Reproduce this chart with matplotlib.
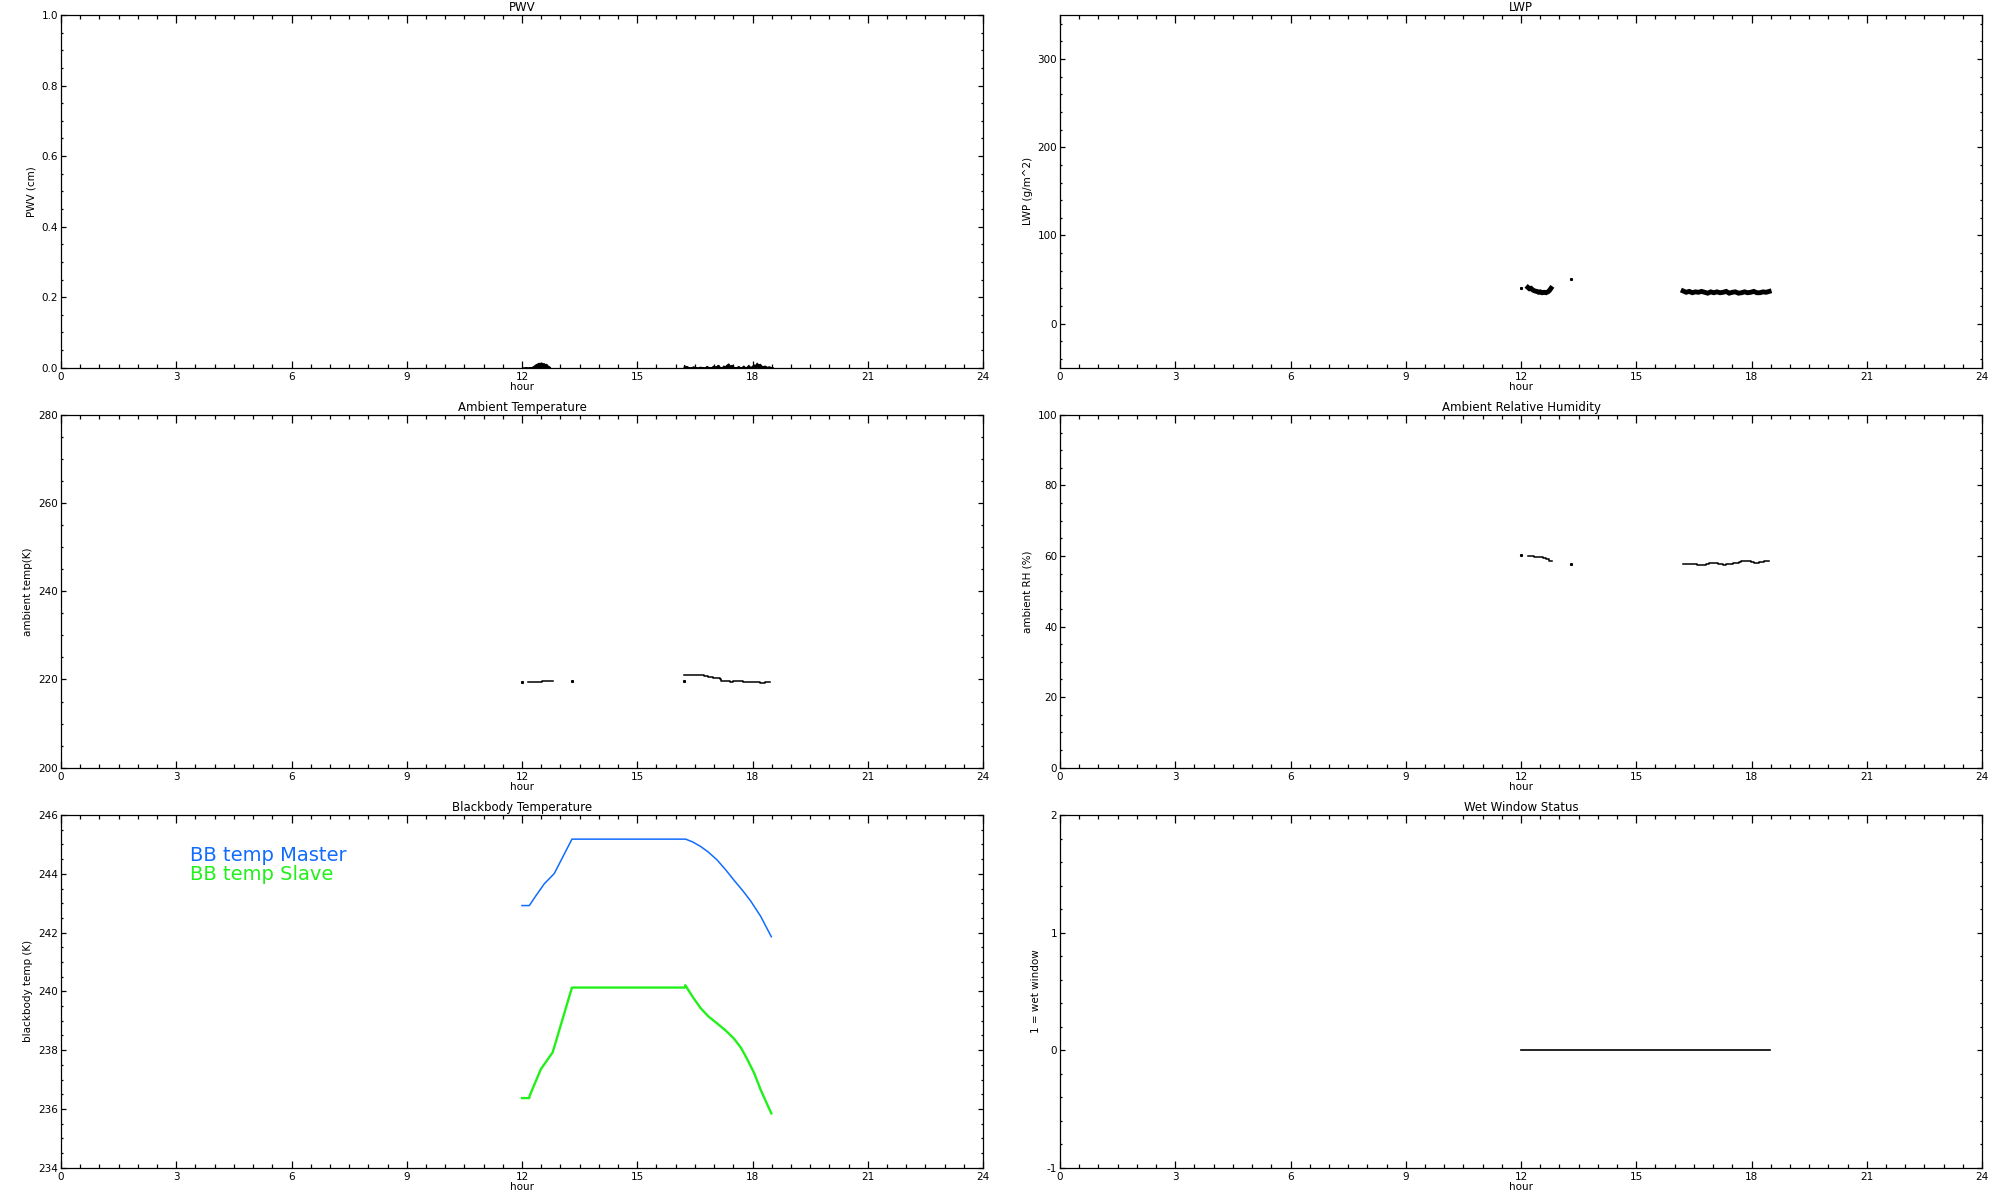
import matplotlib
matplotlib.use('Agg')
import matplotlib.pyplot as plt
from matplotlib.ticker import MultipleLocator, FormatStrFormatter

# PWV (cm)
pwv_hour_a = [12.00, 12.05, 12.10, 12.15, 12.20, 12.25, 12.30, 12.33, 12.36, 12.40,
              12.43, 12.46, 12.50, 12.53, 12.56, 12.60, 12.63, 12.66, 12.70, 12.73]
pwv_a = [0.000, 0.000, 0.001, 0.000, 0.001, 0.002, 0.005, 0.008, 0.010, 0.012,
         0.014, 0.013, 0.015, 0.012, 0.013, 0.010, 0.011, 0.007, 0.004, 0.002]
pwv_hour_b = [16.20, 16.22, 16.25, 16.28, 16.33, 16.38, 16.46, 16.52, 16.58, 16.63,
              16.70, 16.76, 16.80, 16.86, 16.92, 16.98, 17.04, 17.08, 17.11, 17.15,
              17.20, 17.24, 17.28, 17.33, 17.37, 17.41, 17.46, 17.50, 17.56, 17.63,
              17.68, 17.72, 17.76, 17.82, 17.86, 17.89, 17.94, 17.99, 18.02, 18.06,
              18.11, 18.15, 18.19, 18.25, 18.32, 18.38, 18.42, 18.45, 18.50, 18.54]
pwv_b = [0.000, 0.008, 0.003, 0.005, 0.002, 0.000, 0.004, 0.001, 0.000, 0.003,
         0.001, 0.000, 0.005, 0.002, 0.001, 0.006, 0.003, 0.007, 0.008, 0.002,
         0.001, 0.006, 0.004, 0.009, 0.012, 0.006, 0.008, 0.003, 0.000, 0.005,
         0.001, 0.002, 0.006, 0.000, 0.004, 0.008, 0.002, 0.005, 0.010, 0.007,
         0.014, 0.009, 0.011, 0.004, 0.006, 0.002, 0.004, 0.003, 0.001, 0.000]

# LWP (g/m^2)
lwp_hour_dots = [12.00, 13.30]
lwp_dots = [40.8, 51.0]
lwp_hour_a = [12.18, 12.22, 12.26, 12.31, 12.36, 12.41, 12.46, 12.50, 12.55, 12.60,
              12.65, 12.70, 12.74, 12.78]
lwp_a = [41.0, 39.5, 40.0, 38.0, 37.0, 36.5, 35.5, 36.0, 35.0, 35.5,
         35.0, 36.0, 37.5, 40.0]
lwp_hour_b = [16.22, 16.30, 16.38, 16.46, 16.54, 16.62, 16.70, 16.78, 16.86, 16.94,
              17.02, 17.10, 17.18, 17.26, 17.34, 17.42, 17.50, 17.58, 17.66, 17.74,
              17.82, 17.90, 17.98, 18.06, 18.14, 18.22, 18.30, 18.38, 18.46]
lwp_b = [37.0, 35.5, 36.5, 35.0, 36.0, 35.5, 36.5, 35.5, 34.5, 36.0,
         35.0, 36.0, 35.0, 35.5, 36.5, 34.5, 35.5, 36.0, 34.5, 35.0,
         36.0, 35.0, 35.5, 36.5, 35.0, 35.0, 36.0, 35.5, 36.5]

# ambient temperature (K)
at_hour_dots = [11.99, 13.29, 16.22]
at_dots = [219.4, 219.7, 219.7]
at_hour_a = [12.16, 12.51, 12.60, 12.73, 12.80]
at_a = [219.4, 219.6, 219.7, 219.6, 219.6]
at_hour_b = [16.22, 16.74, 16.85, 16.98, 17.15, 17.19, 17.41, 17.50, 17.76, 18.02,
             18.19, 18.32, 18.45]
at_b = [221.0, 220.8, 220.5, 220.3, 220.0, 219.7, 219.5, 219.7, 219.5, 219.4,
        219.1, 219.5, 219.5]

# ambient RH (%)
rh_hour_dots = [12.00, 13.30]
rh_dots = [60.3, 57.8]
rh_hour_a = [12.18, 12.35, 12.57, 12.65, 12.74, 12.81]
rh_a = [60.1, 59.8, 59.4, 59.1, 58.6, 58.6]
rh_hour_b = [16.22, 16.59, 16.81, 16.90, 17.12, 17.25, 17.33, 17.51, 17.68, 17.72,
             17.98, 18.07, 18.16, 18.20, 18.33, 18.46]
rh_b = [57.7, 57.4, 57.7, 58.0, 57.7, 57.4, 57.7, 58.0, 58.3, 58.7,
        58.4, 58.1, 57.9, 58.2, 58.7, 58.7]

# blackbody temperatures (K)
bb_hour_master = [12.00, 12.19, 12.36, 12.58, 12.84, 13.30, 16.26, 16.45, 16.65, 16.85,
                  17.08, 17.30, 17.52, 17.75, 17.95, 18.21, 18.49]
bb_master = [242.92, 242.92, 243.25, 243.66, 244.01, 245.18, 245.18, 245.08, 244.93, 244.74,
             244.47, 244.14, 243.78, 243.42, 243.08, 242.56, 241.86]
bb_hour_slave = [12.00, 12.19, 12.20, 12.49, 12.80, 13.30, 16.24, 16.25, 16.45, 16.65,
                 16.85, 17.08, 17.30, 17.52, 17.70, 17.86, 18.05, 18.21, 18.35, 18.49]
bb_slave = [236.37, 236.37, 236.45, 237.35, 237.93, 240.13, 240.13, 240.21, 239.80, 239.43,
            239.15, 238.91, 238.67, 238.39, 238.08, 237.70, 237.20, 236.66, 236.25, 235.85]

# wet window flag
ww_hour = [12.00, 18.48]
ww = [0, 0]

blue = '#106cff'
green = '#22f01a'

fig = plt.figure(figsize=(20, 12), dpi=100)
col_x = [0.0305, 0.530]
row_y = [0.6936, 0.3603, 0.0269]
w, h = 0.461, 0.2939


def make_axes(col, row, title, ylabel, ylim, ymajor, yminor, fmt='%d', lpad=4):
  ax = fig.add_axes([col_x[col], row_y[row], w, h])
  ax.set_xlim(0, 24)
  ax.set_ylim(*ylim)
  ax.xaxis.set_major_locator(MultipleLocator(3))
  ax.xaxis.set_minor_locator(MultipleLocator(0.5))
  ax.yaxis.set_major_locator(MultipleLocator(ymajor))
  ax.yaxis.set_minor_locator(MultipleLocator(yminor))
  ax.yaxis.set_major_formatter(FormatStrFormatter(fmt))
  ax.tick_params(which='both', direction='in', top=True, right=True, labelsize=7.5, width=0.9)
  ax.tick_params(axis='x', which='major', length=5.4, pad=3)
  ax.tick_params(axis='x', which='minor', length=3.1)
  ax.tick_params(axis='y', which='major', length=3.4, pad=2)
  ax.tick_params(axis='y', which='minor', length=1.7)
  for s in ax.spines.values():
    s.set_linewidth(0.9)
  ax.set_title(title, fontsize=8.5, pad=3)
  ax.set_ylabel(ylabel, fontsize=7.5, labelpad=lpad)
  ax.set_xlabel('hour', fontsize=7.5, labelpad=0)
  return ax


ax = make_axes(0, 0, 'PWV', 'PWV (cm)', (0, 1), 0.2, 0.05, fmt='%.1f')
ax.fill_between(pwv_hour_a, 0, pwv_a, color='black', lw=0.8)
ax.fill_between(pwv_hour_b, 0, pwv_b, color='black', lw=0.8)

ax = make_axes(1, 0, 'LWP', 'LWP (g/m^2)', (-50, 350), 100, 20, lpad=3)
ax.plot(lwp_hour_a, lwp_a, color='black', lw=3.5, solid_joinstyle='miter')
ax.plot(lwp_hour_b, lwp_b, color='black', lw=3.5, solid_joinstyle='miter')
ax.plot(lwp_hour_dots, lwp_dots, 's', color='black', ms=1.2)

ax = make_axes(0, 1, 'Ambient Temperature', 'ambient temp(K)', (200, 280), 20, 5)
ax.plot(at_hour_a, at_a, color='black', lw=1.1, drawstyle='steps-post')
ax.plot(at_hour_b, at_b, color='black', lw=1.1, drawstyle='steps-post')
ax.plot(at_hour_dots, at_dots, 's', color='black', ms=1.2)

ax = make_axes(1, 1, 'Ambient Relative Humidity', 'ambient RH (%)', (0, 100), 20, 5)
ax.plot(rh_hour_a, rh_a, color='black', lw=1.1, drawstyle='steps-post')
ax.plot(rh_hour_b, rh_b, color='black', lw=1.1, drawstyle='steps-post')
ax.plot(rh_hour_dots, rh_dots, 's', color='black', ms=1.2)

ax = make_axes(0, 2, 'Blackbody Temperature', 'blackbody temp (K)', (234, 246), 2, 0.5)
ax.plot(bb_hour_master, bb_master, color=blue, lw=1.1)
ax.plot(bb_hour_slave, bb_slave, color=green, lw=1.7)
ax.text(3.35, 244.63, 'BB temp Master', color=blue, fontsize=14, va='center', ha='left')
ax.text(3.35, 243.96, 'BB temp Slave', color=green, fontsize=14, va='center', ha='left')

ax = make_axes(1, 2, 'Wet Window Status', '1 = wet window', (-1, 2), 1, 0.2)
ax.plot(ww_hour, ww, color='black', lw=1.2)

fig.savefig('out.png', dpi=100)
plt.close(fig)
